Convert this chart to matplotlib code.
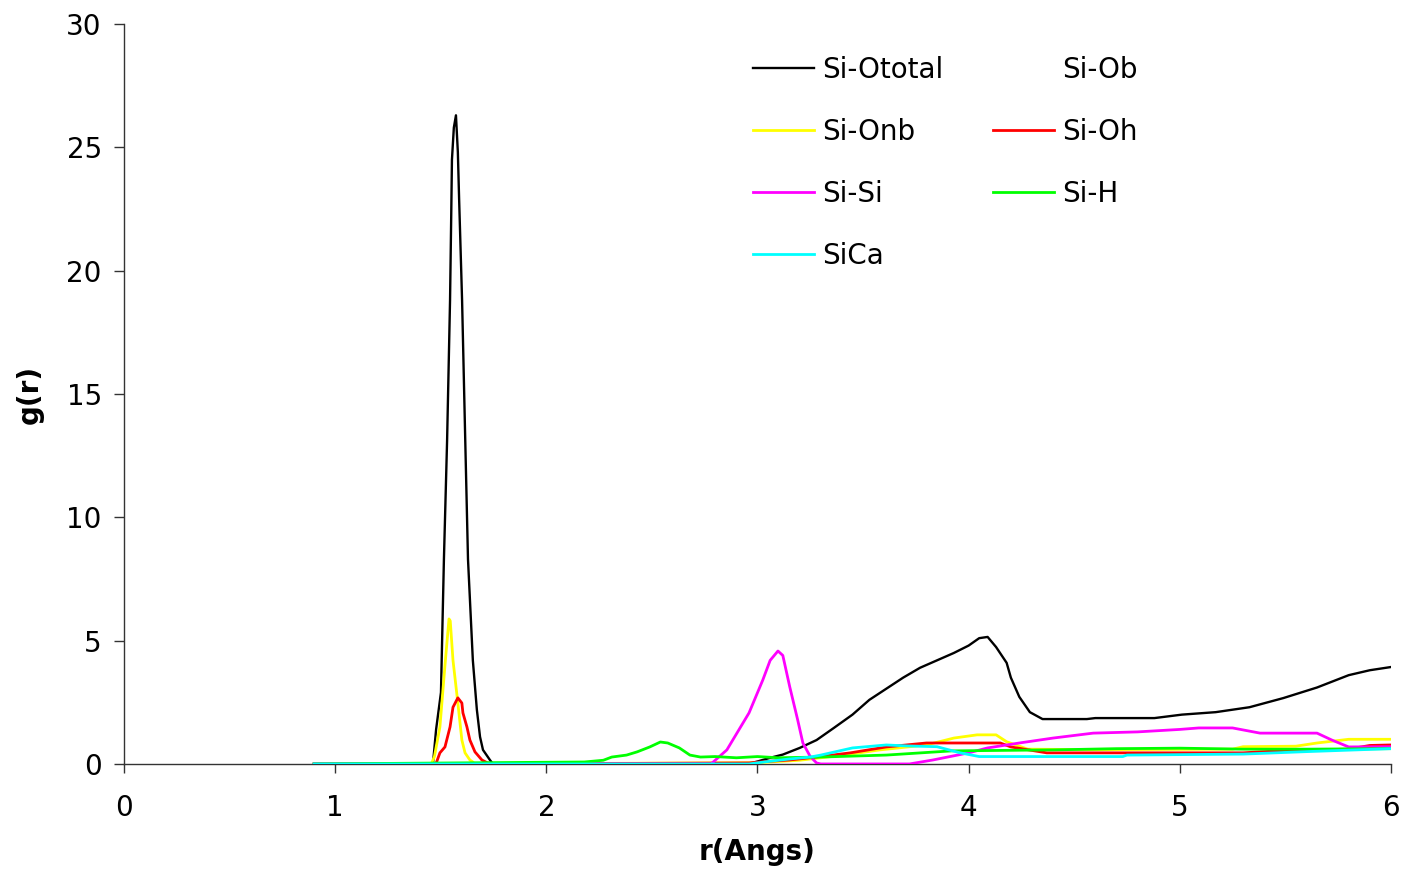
import numpy as np
import matplotlib
matplotlib.use("Agg")
import matplotlib.pyplot as plt

plt.rcParams['font.family'] = ['DejaVu Sans']

r_ototal = [0.90, 1.463, 1.478, 1.501, 1.515, 1.530, 1.544, 1.550, 1.553, 1.562, 1.572,
            1.581, 1.587, 1.601, 1.615, 1.629, 1.652, 1.671, 1.686, 1.700, 1.733, 1.747,
            2.955, 3.00, 3.06, 3.12, 3.20, 3.28, 3.36, 3.45, 3.53, 3.61, 3.69, 3.77, 3.85,
            3.93, 4.00, 4.05, 4.09, 4.13, 4.18, 4.20, 4.24, 4.29, 4.35, 4.56, 4.60, 4.88,
            5.01, 5.17, 5.33, 5.49, 5.65, 5.80, 5.90, 6.00]
g_ototal = [0.0, 0.0, 1.4, 2.9, 8.3, 13.1, 18.8, 22.5, 24.5, 25.8, 26.3,
            24.8, 22.9, 18.8, 13.5, 8.3, 4.2, 2.2, 1.1, 0.57, 0.16, 0.0,
            0.0, 0.1, 0.25, 0.38, 0.65, 0.97, 1.45, 2.0, 2.6, 3.05, 3.5, 3.9, 4.2,
            4.5, 4.8, 5.1, 5.15, 4.74, 4.1, 3.5, 2.72, 2.1, 1.82, 1.82, 1.86, 1.86,
            2.0, 2.1, 2.3, 2.67, 3.1, 3.6, 3.8, 3.93]

r_ob = []
g_ob = []

r_onb = [0.90, 1.455, 1.470, 1.496, 1.520, 1.539, 1.545, 1.558, 1.581, 1.600, 1.615,
         1.638, 1.652, 1.660, 3.00, 3.20, 3.40, 3.58, 3.80, 3.93, 4.04, 4.13, 4.18,
         4.28, 4.60, 5.25, 5.30, 5.55, 5.65, 5.80, 6.00]
g_onb = [0.0, 0.0, 0.3, 1.5, 4.0, 5.88, 5.8, 4.2, 2.47, 0.97, 0.45,
         0.16, 0.08, 0.0, 0.05, 0.15, 0.35, 0.57, 0.77, 1.05, 1.18, 1.18, 0.9,
         0.6, 0.58, 0.6, 0.7, 0.72, 0.85, 1.0, 1.0]

r_oh = [0.90, 1.477, 1.496, 1.520, 1.544, 1.558, 1.581, 1.600, 1.605, 1.624, 1.638,
        1.662, 1.695, 1.720, 1.740, 2.96, 3.04, 3.15, 3.28, 3.44, 3.61, 3.80, 4.15,
        4.20, 4.37, 5.30, 5.50, 5.80, 5.90, 6.00]
g_oh = [0.0, 0.0, 0.45, 0.69, 1.5, 2.3, 2.68, 2.47, 2.07, 1.5, 0.97,
        0.49, 0.16, 0.05, 0.0, 0.04, 0.1, 0.16, 0.28, 0.45, 0.69, 0.85, 0.85,
        0.69, 0.45, 0.45, 0.55, 0.6, 0.75, 0.77]

r_sisi = [0.90, 2.78, 2.855, 2.96, 3.025, 3.06, 3.097, 3.12, 3.153, 3.19, 3.215,
          3.25, 3.28, 3.30, 3.72, 3.83, 4.00, 4.09, 4.24, 4.40, 4.59, 4.80, 5.00,
          5.09, 5.25, 5.38, 5.65, 5.72, 5.80, 6.00]
g_sisi = [0.0, 0.0, 0.57, 2.07, 3.4, 4.2, 4.58, 4.4, 3.12, 1.8, 0.85,
          0.3, 0.04, 0.0, 0.0, 0.16, 0.45, 0.65, 0.85, 1.05, 1.25, 1.3, 1.4,
          1.46, 1.46, 1.25, 1.25, 0.97, 0.69, 0.7]

r_sih = [0.90, 2.18, 2.27, 2.31, 2.38, 2.43, 2.49, 2.54, 2.575, 2.63, 2.68, 2.73,
         2.80, 2.90, 3.00, 3.10, 3.30, 3.61, 3.92, 4.40, 4.70, 5.00, 5.30, 5.60, 6.00]
g_sih = [0.0, 0.08, 0.15, 0.28, 0.36, 0.49, 0.69, 0.89, 0.85, 0.65, 0.36, 0.28,
         0.3, 0.25, 0.3, 0.25, 0.28, 0.36, 0.53, 0.57, 0.62, 0.64, 0.6, 0.6, 0.62]

r_sica = [0.90, 2.96, 3.05, 3.15, 3.25, 3.30, 3.45, 3.61, 3.71, 3.85, 3.96, 4.05,
          4.73, 4.75, 5.30, 5.60, 6.00]
g_sica = [0.0, 0.0, 0.1, 0.2, 0.28, 0.36, 0.65, 0.77, 0.73, 0.7, 0.45, 0.3,
          0.3, 0.36, 0.4, 0.5, 0.62]

series = [
    ('Si-Ototal', r_ototal, g_ototal, 'black'),
    ('Si-Onb', r_onb, g_onb, '#ffff00'),
    ('Si-Si', r_sisi, g_sisi, '#ff00ff'),
    ('SiCa', r_sica, g_sica, '#00ffff'),
    ('Si-Ob', r_ob, g_ob, 'white'),
    ('Si-Oh', r_oh, g_oh, '#ff0000'),
    ('Si-H', r_sih, g_sih, '#00ff00'),
]
# drawing order (last one on top)
draw_order = ['Si-Ob', 'Si-Ototal', 'Si-Onb', 'Si-Oh', 'Si-Si', 'Si-H', 'SiCa']

fig = plt.figure(figsize=(14.03, 8.71), dpi=100)
ax = fig.add_axes([0.0884, 0.1229, 0.9030, 0.8495])

lines = {}
for z, name in enumerate(draw_order):
    for lab, r, g, c in series:
        if lab == name:
            ln, = ax.plot(r, g, color=c, lw=2.0, label=lab, zorder=2 + z)
            lines[lab] = ln
lines['Si-Ototal'].set_linewidth(1.7)

ax.set_xlim(0, 6)
ax.set_ylim(0, 30)
ax.set_xticks(range(0, 7))
ax.set_yticks(range(0, 31, 5))
for s in ['top', 'right']:
    ax.spines[s].set_visible(False)
for s in ['left', 'bottom']:
    ax.spines[s].set_color('#333333')
    ax.spines[s].set_linewidth(1.0)
ax.tick_params(axis='x', direction='out', length=6.5, width=1.0, color='#333333',
               labelsize=20, pad=15)
ax.tick_params(axis='y', direction='out', length=7, width=1.0, color='#333333',
               labelsize=20, pad=9)

ax.set_xlabel('r(Angs)', fontsize=20, fontweight='bold', labelpad=12)
ax.set_ylabel('g(r)', fontsize=20, fontweight='bold')
ax.yaxis.set_label_coords(-0.0635, 0.5)

handles = [lines[lab] for lab, *_ in series]
ax.legend(handles=handles, labels=[h.get_label() for h in handles], ncol=2,
          frameon=False, fontsize=20, loc='upper left',
          bbox_to_anchor=(0.5367, 0.9355), bbox_transform=fig.transFigure,
          borderpad=0, borderaxespad=0, handlelength=2.2, handletextpad=0.3,
          labelspacing=1.22, columnspacing=1.78)

fig.savefig('out.png', dpi=100)
